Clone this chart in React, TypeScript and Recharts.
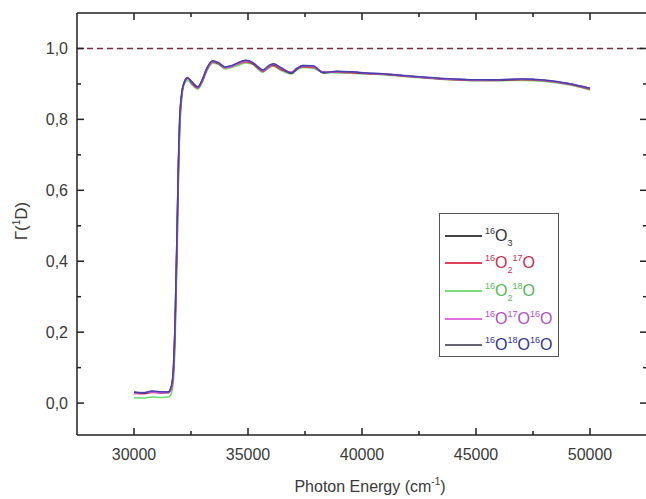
import React from 'react';
import { LineChart, Line, XAxis, YAxis, ReferenceLine, Label } from 'recharts';

const energy = [30000, 30400, 30800, 31200, 31500, 31600, 31700, 31800, 31900, 31950, 32000, 32100, 32200, 32350, 32550, 32800, 33000, 33200, 33450, 33700, 34000, 34250, 34500, 34900, 35200, 35450, 35650, 35900, 36100, 36450, 36900, 37150, 37400, 37850, 38300, 38900, 39600, 40200, 40900, 42000, 43000, 44000, 45000, 46000, 47000, 48000, 49000, 50000];

const o3_666 = [0.030, 0.028, 0.033, 0.030, 0.031, 0.038, 0.07, 0.22, 0.52, 0.68, 0.79, 0.875, 0.902, 0.916, 0.905, 0.892, 0.912, 0.944, 0.964, 0.958, 0.947, 0.950, 0.957, 0.966, 0.959, 0.946, 0.938, 0.950, 0.955, 0.944, 0.930, 0.942, 0.951, 0.950, 0.931, 0.935, 0.933, 0.930, 0.928, 0.922, 0.917, 0.913, 0.911, 0.911, 0.913, 0.910, 0.901, 0.887];
const o3_667 = [0.027, 0.026, 0.030, 0.028, 0.029, 0.034, 0.06, 0.19, 0.48, 0.65, 0.77, 0.87, 0.905, 0.918, 0.900, 0.888, 0.908, 0.940, 0.962, 0.957, 0.945, 0.948, 0.955, 0.962, 0.957, 0.944, 0.935, 0.947, 0.952, 0.940, 0.933, 0.945, 0.948, 0.946, 0.934, 0.933, 0.931, 0.929, 0.927, 0.921, 0.916, 0.912, 0.910, 0.910, 0.912, 0.909, 0.900, 0.885];
const o3_668 = [0.015, 0.014, 0.017, 0.016, 0.017, 0.022, 0.045, 0.16, 0.44, 0.62, 0.75, 0.86, 0.898, 0.910, 0.897, 0.885, 0.905, 0.937, 0.958, 0.955, 0.942, 0.946, 0.951, 0.959, 0.955, 0.940, 0.933, 0.944, 0.950, 0.938, 0.928, 0.940, 0.946, 0.944, 0.932, 0.931, 0.930, 0.928, 0.926, 0.920, 0.915, 0.911, 0.909, 0.909, 0.910, 0.907, 0.898, 0.883];
const o3_676 = [0.028, 0.030, 0.031, 0.029, 0.030, 0.036, 0.065, 0.21, 0.50, 0.67, 0.78, 0.872, 0.903, 0.915, 0.903, 0.890, 0.910, 0.942, 0.963, 0.959, 0.946, 0.949, 0.956, 0.965, 0.960, 0.947, 0.937, 0.949, 0.956, 0.945, 0.932, 0.944, 0.952, 0.949, 0.933, 0.934, 0.934, 0.930, 0.928, 0.922, 0.917, 0.913, 0.911, 0.912, 0.913, 0.910, 0.901, 0.887];
const o3_686 = [0.031, 0.029, 0.034, 0.032, 0.031, 0.040, 0.075, 0.23, 0.53, 0.69, 0.80, 0.878, 0.904, 0.917, 0.904, 0.891, 0.913, 0.945, 0.965, 0.960, 0.948, 0.951, 0.958, 0.967, 0.961, 0.948, 0.939, 0.951, 0.957, 0.946, 0.931, 0.943, 0.952, 0.951, 0.932, 0.936, 0.934, 0.931, 0.929, 0.923, 0.918, 0.914, 0.912, 0.912, 0.914, 0.911, 0.902, 0.888];

const xMajorTicks = [30000, 35000, 40000, 45000, 50000];
const xMinorTicks = [32500, 37500, 42500, 47500];
const yMajorTicks = [0, 0.2, 0.4, 0.6, 0.8, 1.0];
const yMinorTicks = [0.1, 0.3, 0.5, 0.7, 0.9];
const xDomain = [27500, 52500];
const yDomain = [-0.09, 1.1];
const referenceLevel = 1.0;

type Part = { t: string; s?: 'sup' | 'sub' };
const seriesDefs: { key: string; values: number[]; line: string; legendLine: string; text: string; label: Part[] }[] = [
  { key: 'o668', values: o3_668, line: '#6fdc6f', legendLine: '#7ddd7d', text: '#55bb55', label: [{ t: '16', s: 'sup' }, { t: 'O' }, { t: '2', s: 'sub' }, { t: '18', s: 'sup' }, { t: 'O' }] },
  { key: 'o667', values: o3_667, line: '#e0405a', legendLine: '#e0405a', text: '#c83050', label: [{ t: '16', s: 'sup' }, { t: 'O' }, { t: '2', s: 'sub' }, { t: '17', s: 'sup' }, { t: 'O' }] },
  { key: 'o666', values: o3_666, line: '#333333', legendLine: '#444444', text: '#333333', label: [{ t: '16', s: 'sup' }, { t: 'O' }, { t: '3', s: 'sub' }] },
  { key: 'o676', values: o3_676, line: '#d060e0', legendLine: '#e070e0', text: '#b050c8', label: [{ t: '16', s: 'sup' }, { t: 'O' }, { t: '17', s: 'sup' }, { t: 'O' }, { t: '16', s: 'sup' }, { t: 'O' }] },
  { key: 'o686', values: o3_686, line: '#4a3fb0', legendLine: '#666677', text: '#333399', label: [{ t: '16', s: 'sup' }, { t: 'O' }, { t: '18', s: 'sup' }, { t: 'O' }, { t: '16', s: 'sup' }, { t: 'O' }] },
];
const legendOrder = ['o666', 'o667', 'o668', 'o676', 'o686'];

const data = energy.map((e, i) => {
  const row: Record<string, number> = { e };
  seriesDefs.forEach((s) => { row[s.key] = s.values[i]; });
  return row;
});

const FONT = '"Liberation Sans", Arial, sans-serif';
const AX = '#222222';
const TXT = '#3a3a3a';

const fmtY = (v: number) => v.toFixed(1).replace('.', ',');

const BottomTick = (props: any) => {
  const { x, y, payload } = props;
  const major = xMajorTicks.includes(payload.value);
  return (
    <g>
      <line x1={x} x2={x} y1={y} y2={y - (major ? 7 : 4)} stroke={AX} strokeWidth={1.5} />
      {major && (
        <text x={x} y={y + 25} textAnchor="middle" fontSize={16} fontFamily={FONT} fill={TXT}>{payload.value}</text>
      )}
    </g>
  );
};
const TopTick = (props: any) => {
  const { x, y, payload } = props;
  const major = xMajorTicks.includes(payload.value);
  return <line x1={x} x2={x} y1={y} y2={y + (major ? 7 : 4)} stroke={AX} strokeWidth={1.5} />;
};
const LeftTick = (props: any) => {
  const { x, y, payload } = props;
  const major = yMajorTicks.some((t) => Math.abs(t - payload.value) < 1e-9);
  return (
    <g>
      <line x1={x} x2={x + (major ? 7 : 4)} y1={y} y2={y} stroke={AX} strokeWidth={1.5} />
      {major && (
        <text x={x - 9} y={y + 6} textAnchor="end" fontSize={16} fontFamily={FONT} fill={TXT}>{fmtY(payload.value)}</text>
      )}
    </g>
  );
};
const RightTick = (props: any) => {
  const { x, y, payload } = props;
  const major = yMajorTicks.some((t) => Math.abs(t - payload.value) < 1e-9);
  return <line x1={x} x2={x - (major ? 7 : 4)} y1={y} y2={y} stroke={AX} strokeWidth={1.5} />;
};

const XTitle = (props: any) => {
  const vb = props.viewBox || { x: 0, y: 0, width: 0, height: 0 };
  return (
    <text x={vb.x + vb.width / 2 + 8} y={vb.y + 57} textAnchor="middle" fontSize={16} fontFamily={FONT} fill={TXT}>
      Photon Energy (cm<tspan dy={-7} fontSize={10}>-1</tspan><tspan dy={7}>)</tspan>
    </text>
  );
};
const YTitle = (props: any) => {
  const vb = props.viewBox || { x: 0, y: 0, width: 0, height: 0 };
  const cx = vb.x + 27;
  const cy = vb.y + 208;
  return (
    <text transform={`translate(${cx},${cy}) rotate(-90)`} textAnchor="middle" fontSize={17} fontFamily={FONT} fill={TXT}>
      Γ(<tspan dy={-7} fontSize={10}>1</tspan><tspan dy={7}>D)</tspan>
    </text>
  );
};

const LegendLabel = ({ parts, color }: { parts: Part[]; color: string }) => (
  <span style={{ color, fontSize: 16, fontFamily: FONT, whiteSpace: 'nowrap' }}>
    {parts.map((p, i) =>
      p.s === 'sup' ? (
        <span key={i} style={{ fontSize: 9, position: 'relative', top: -7 }}>{p.t}</span>
      ) : p.s === 'sub' ? (
        <span key={i} style={{ fontSize: 9, position: 'relative', top: 5 }}>{p.t}</span>
      ) : (
        <span key={i}>{p.t}</span>
      )
    )}
  </span>
);

export default function App() {
  return (
    <div style={{ position: 'fixed', left: 0, top: 0, width: 646, height: 499, overflow: 'hidden', background: '#fff' }}>
      <LineChart width={648} height={499} data={data} margin={{ top: 0, right: 0, bottom: 0, left: 0 }}>
        <XAxis
          dataKey="e"
          type="number"
          domain={xDomain}
          allowDataOverflow
          ticks={[...xMajorTicks, ...xMinorTicks]}
          interval={0}
          tickSize={0}
          tickMargin={0}
          height={64}
          tickLine={false}
          tick={BottomTick}
          axisLine={{ stroke: AX, strokeWidth: 1.5 }}
        >
          <Label content={XTitle} />
        </XAxis>
        <XAxis
          xAxisId="top"
          orientation="top"
          dataKey="e"
          type="number"
          domain={xDomain}
          allowDataOverflow
          ticks={[...xMajorTicks, ...xMinorTicks]}
          interval={0}
          tickSize={0}
          tickMargin={0}
          height={13}
          tickLine={false}
          tick={TopTick}
          axisLine={{ stroke: AX, strokeWidth: 1.5 }}
        />
        <YAxis
          type="number"
          domain={yDomain}
          allowDataOverflow
          ticks={[...yMajorTicks, ...yMinorTicks]}
          interval={0}
          tickSize={0}
          tickMargin={0}
          width={77}
          tickLine={false}
          tick={LeftTick}
          axisLine={{ stroke: AX, strokeWidth: 1.5 }}
        >
          <Label content={YTitle} />
        </YAxis>
        <YAxis
          yAxisId="right"
          orientation="right"
          type="number"
          domain={yDomain}
          allowDataOverflow
          ticks={[...yMajorTicks, ...yMinorTicks]}
          interval={0}
          tickSize={0}
          tickMargin={0}
          width={1}
          tickLine={false}
          tick={RightTick}
          axisLine={{ stroke: AX, strokeWidth: 1.5 }}
        />
        <ReferenceLine y={referenceLevel} stroke="#7a2a3a" strokeWidth={1.5} strokeDasharray="6 4" />
        {seriesDefs.map((s) => (
          <Line
            key={s.key}
            dataKey={s.key}
            type="monotone"
            stroke={s.line}
            strokeWidth={1.5}
            dot={false}
            isAnimationActive={false}
          />
        ))}
      </LineChart>
      <div
        style={{
          position: 'absolute',
          left: 439,
          top: 213,
          width: 118,
          height: 142,
          border: '1px solid #555',
          background: '#fff',
        }}
      >
        {legendOrder.map((k, i) => {
          const s = seriesDefs.find((d) => d.key === k)!;
          const centers = [22, 49, 77, 105, 131];
          return (
            <div key={k} style={{ position: 'absolute', left: 0, top: centers[i] - 10, height: 20, width: 118 }}>
              <div style={{ position: 'absolute', left: 5, top: 9, width: 37, height: 2, background: s.legendLine }} />
              <div style={{ position: 'absolute', left: 45, top: 1, lineHeight: '18px' }}>
                <LegendLabel parts={s.label} color={s.text} />
              </div>
            </div>
          );
        })}
      </div>
    </div>
  );
}
